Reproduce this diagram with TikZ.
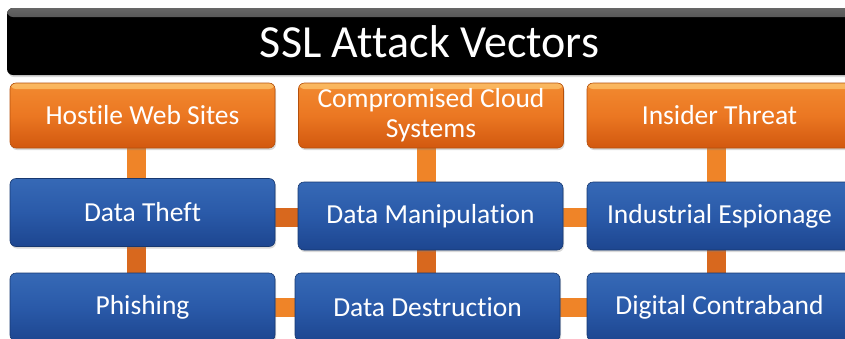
\documentclass[tikz,border=0pt]{standalone}
\usepackage{fontspec}
\setmainfont{Carlito}[Ligatures={NoCommon,NoRequired,NoContextual},Contextuals=NoAlternate]
\usetikzlibrary{shadows,backgrounds}

% zero-width break that keeps letter pairs such as t-i and f-t apart
\newcommand{\nolig}{\kern0pt{}}

\definecolor{orShine}{HTML}{FAB860}
\definecolor{orTop}{HTML}{F28A30}
\definecolor{orMid}{HTML}{EB7722}
\definecolor{orBot}{HTML}{D2580F}
\definecolor{orEdge}{HTML}{B4500C}
\definecolor{blTop}{HTML}{3669B6}
\definecolor{blMid}{HTML}{2A5AA9}
\definecolor{blBot}{HTML}{1D4690}
\definecolor{blEdge}{HTML}{173870}
\definecolor{barV}{HTML}{EF8428}
\definecolor{barH}{HTML}{D8681E}

\tikzset{
  box/.style={rounded corners=6pt, minimum width=265pt, inner sep=0pt,
    text=white, align=center, line width=0.6pt,
    font=\fontsize{27.5}{30}\selectfont,
    drop shadow={opacity=0.3, shadow xshift=1pt, shadow yshift=-2pt}},
  threat/.style={box, minimum height=65pt, draw=orEdge,
    top color=orTop, bottom color=orBot, middle color=orMid,
    path picture={\shade[top color=orShine, bottom color=orTop]
      (path picture bounding box.north west) rectangle
      ([yshift=-6pt]path picture bounding box.north east);}},
  impact/.style={box, minimum height=68pt, draw=blEdge,
    top color=blTop, bottom color=blBot, middle color=blMid},
  titlebar/.style={rounded corners=6pt, minimum width=845pt, minimum height=67pt,
    inner sep=0pt, fill=black, text=white,
    font=\fontsize{46}{50}\selectfont,
    drop shadow={opacity=0.3, shadow xshift=1pt, shadow yshift=-2pt},
    path picture={\shade[top color=black!60, bottom color=black]
      (path picture bounding box.north west) rectangle
      ([yshift=-9pt]path picture bounding box.north east);}},
  vbar/.style={barV, line width=19pt},
  hbar/.style={barH, line width=19pt},
}

\begin{document}
\begin{tikzpicture}[x=1pt, y=-1pt]
  \useasboundingbox (0,0) rectangle (845,338);

  % heading
  \node[titlebar] (title) at (429.5,41.5) {SSL At\nolig tack Vectors};

  % sources of attack
  \node[threat] (hostile) at (142.5,115.5) {Host\nolig ile Web Sites};
  \node[threat] (cloud)   at (431,115.5)   {Compromised Cloud\\Systems};
  \node[threat] (insider) at (719.5,115.5) {Insider Threat};

  % resulting impacts
  \node[impact] (theft)   at (142.5,212.5) {Data Thef\nolig t};
  \node[impact] (manip)   at (430.5,216)   {Data Manipulat\nolig ion};
  \node[impact] (espion)  at (719.5,216)   {Industrial Espionage};
  \node[impact] (phish)   at (142.5,307)   {Phishing};
  \node[impact] (destroy) at (427.5,307)   {Data Destruct\nolig ion};
  \node[impact] (contra)  at (719.5,307)   {Digital Contraband};

  % column and row guides for the connecting bars
  \coordinate (c1) at (136,0);
  \coordinate (c2) at (426,0);
  \coordinate (c3) at (716,0);
  \coordinate (r2) at (0,217);
  \coordinate (r3) at (0,307);

  \begin{scope}[on background layer]
    \draw[vbar] (hostile.south -| c1) -- (theft.north -| c1);
    \draw[vbar] (cloud.south -| c2)   -- (manip.north -| c2);
    \draw[vbar] (insider.south -| c3) -- (espion.north -| c3);
    \draw[hbar] (theft.south -| c1)   -- (phish.north -| c1);
    \draw[hbar] (manip.south -| c2)   -- (destroy.north -| c2);
    \draw[hbar] (espion.south -| c3)  -- (contra.north -| c3);
    \draw[hbar] (theft.east |- r2)    -- (manip.west |- r2);
    \draw[vbar] (manip.east |- r2)    -- (espion.west |- r2);
    \draw[vbar] (phish.east |- r3)    -- (destroy.west |- r3);
    \draw[vbar] (destroy.east |- r3)  -- (contra.west |- r3);
  \end{scope}
\end{tikzpicture}
\end{document}
